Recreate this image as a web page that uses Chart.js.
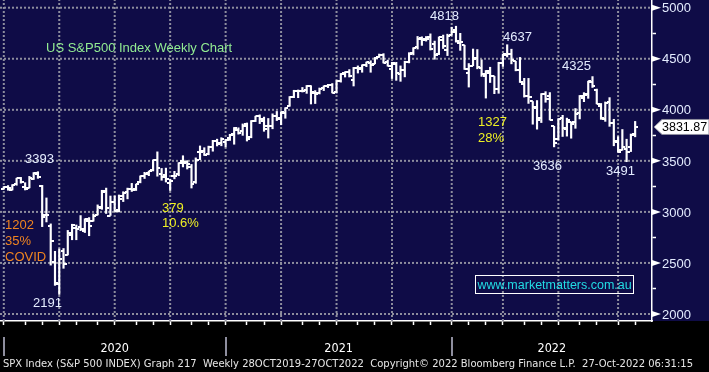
<!DOCTYPE html>
<html>
<head>
<meta charset="utf-8">
<title>US S&amp;P500 Index Weekly Chart</title>
<script src="https://cdn.jsdelivr.net/npm/chart.js@4.4.0/dist/chart.umd.min.js"></script>
<style>
  html, body { margin: 0; padding: 0; background: #000; }
  #wrap { width: 709px; height: 372px; }
</style>
</head>
<body>
<div id="wrap"><canvas id="spx" width="709" height="372"></canvas></div>
<script>
// weekly OHLC, one entry per week; index 0 = week ending 27 Dec 2019, last = week of 27 Oct 2022
const opens = [3225.4,3240.1,3217.6,3273.4,3333.1,3247.2,3235.7,3318.3,3369.0,3257.6,2974.3,2863.9,2508.6,2290.7,2614.7,2578.3,2776.0,2845.6,2854.7,2815.0,2915.5,2913.9,2969.9,3038.8,3199.9,2964.2,3094.4,3018.6,3155.3,3191.0,3224.3,3219.8,3288.3,3356.0,3377.0,3411.0,3507.4,3370.3,3363.6,3285.6,3350.9,3367.3,3500.0,3493.5,3441.4,3296.2,3583.0,3600.2,3566.8,3634.2,3698.1,3675.3,3684.3,3723.0,3764.6,3803.1,3788.4,3857.5,3731.2,3892.6,3939.6,3885.6,3842.5,3844.4,3942.9,3916.5,3969.3,4034.4,4124.7,4179.8,4185.1,4191.9,4228.3,4169.1,4168.6,4216.5,4229.3,4242.9,4173.4,4284.9,4356.5,4372.4,4296.4,4409.6,4406.9,4437.8,4462.1,4450.3,4513.8,4535.4,4470.1,4402.9,4449.0,4348.8,4385.4,4463.7,4553.4,4610.6,4707.3,4689.3,4712.0,4640.2,4548.4,4687.6,4587.9,4733.9,4778.1,4655.3,4632.2,4356.3,4431.8,4505.8,4412.6,4332.7,4363.1,4327.0,4202.8,4462.4,4541.1,4547.9,4474.6,4385.6,4255.3,4130.6,4081.3,4013.0,3919.4,4151.1,4134.7,3838.2,3715.3,3920.8,3815.0,3880.9,3883.8,3972.5,4112.4,4158.0,4269.4,4195.1,4034.6,3909.4,4078.1,3871.0,3682.7,3609.8,3619.9,3638.7,3758.1];
const highs = [3247.9,3258.1,3267.1,3329.9,3337.8,3285.9,3347.9,3385.1,3393.5,3259.8,3136.7,2882.6,2613.8,2637.0,2641.4,2818.6,2879.2,2871.6,2964.2,2932.2,2944.3,2980.3,3068.7,3211.7,3233.1,3155.5,3155.5,3165.8,3197.5,3233.0,3279.3,3272.2,3352.5,3387.9,3399.5,3509.4,3588.1,3425.6,3428.9,3320.3,3397.2,3482.3,3550.0,3502.4,3464.9,3529.1,3645.9,3628.5,3644.3,3701.0,3712.4,3726.7,3711.2,3760.2,3826.7,3823.6,3861.5,3870.9,3894.6,3937.2,3950.4,3928.7,3915.0,3960.3,3983.9,3978.2,4020.6,4129.5,4191.3,4194.2,4218.8,4238.0,4236.4,4188.1,4213.4,4234.1,4249.7,4257.2,4286.1,4355.8,4372.9,4393.7,4415.2,4429.9,4440.8,4468.0,4480.3,4513.3,4545.9,4549.8,4486.9,4465.4,4465.0,4429.9,4475.8,4559.7,4608.1,4718.5,4714.9,4717.8,4743.8,4672.9,4713.6,4731.9,4740.7,4808.9,4818.6,4748.8,4632.2,4453.2,4595.3,4590.0,4489.6,4385.0,4416.8,4327.0,4465.4,4546.0,4637.3,4593.5,4474.6,4512.9,4308.5,4307.7,4081.3,4090.7,4158.5,4177.5,4168.8,3838.2,3913.7,3945.9,3918.5,3880.9,4012.4,4140.2,4167.7,4280.5,4325.3,4203.0,4062.0,4076.8,4119.3,3907.1,3736.7,3806.9,3712.0,3762.8,3886.2];
const lows = [3222.0,3212.0,3214.6,3260.9,3281.5,3214.7,3235.7,3317.8,3328.5,2855.8,2901.5,2478.9,2280.5,2191.9,2447.5,2578.3,2727.1,2727.1,2815.8,2797.9,2766.6,2909.0,2969.9,3025.2,2984.5,2965.7,3004.6,2999.5,3101.2,3127.7,3200.0,3209.5,3284.5,3327.0,3354.7,3401.0,3349.6,3310.0,3292.4,3209.5,3323.7,3354.5,3440.5,3419.9,3233.9,3279.7,3511.9,3552.6,3559.3,3594.4,3645.8,3647.5,3636.5,3699.9,3662.7,3761.5,3749.6,3694.1,3725.6,3884.9,3865.0,3789.5,3723.3,3814.0,3894.6,3853.5,3917.1,4034.4,4118.6,4118.4,4174.0,4160.9,4056.9,4061.4,4155.3,4188.1,4217.3,4165.0,4164.4,4271.0,4321.0,4321.1,4233.1,4360.0,4367.7,4422.6,4367.7,4450.3,4513.0,4458.1,4427.8,4305.9,4288.5,4278.9,4322.5,4459.5,4537.4,4595.1,4630.9,4672.8,4585.4,4495.1,4540.5,4600.2,4531.1,4733.0,4662.7,4582.2,4395.3,4222.6,4431.8,4401.4,4327.2,4114.7,4267.3,4157.9,4161.7,4424.3,4517.7,4450.0,4381.3,4267.6,4124.3,4062.5,3858.9,3810.3,3875.1,4073.9,3900.2,3636.9,3705.7,3738.7,3742.1,3721.6,3818.6,3910.7,4079.8,4112.1,4218.7,4057.7,3906.2,3886.8,3838.0,3647.5,3584.1,3604.9,3491.6,3590.8,3735.4];
const closes = [3240.0,3234.9,3265.4,3329.6,3295.5,3225.5,3327.7,3380.2,3337.8,2954.2,2972.4,2711.0,2304.9,2541.5,2488.7,2789.8,2874.6,2836.7,2830.7,2929.8,2863.7,2955.5,3044.3,3193.9,3041.3,3097.7,3009.1,3130.0,3185.0,3224.7,3215.6,3271.1,3351.3,3372.9,3397.2,3508.0,3427.0,3341.0,3319.5,3298.5,3348.4,3477.1,3483.8,3465.4,3270.0,3509.4,3585.2,3557.5,3638.4,3699.1,3663.5,3709.4,3703.1,3756.1,3824.7,3768.3,3841.5,3714.2,3886.8,3934.8,3906.7,3811.2,3842.0,3943.3,3913.1,3974.5,4019.9,4128.8,4185.5,4180.2,4181.2,4232.6,4173.9,4155.9,4204.1,4229.9,4247.4,4166.5,4280.7,4352.3,4369.6,4327.2,4411.8,4395.3,4436.5,4468.0,4441.7,4509.4,4535.4,4458.6,4433.0,4455.5,4357.0,4391.3,4471.4,4544.9,4605.4,4697.5,4682.9,4698.0,4594.6,4538.4,4712.0,4620.6,4725.8,4766.2,4677.0,4662.9,4398.0,4431.9,4500.5,4418.6,4348.9,4384.7,4328.9,4204.3,4463.1,4543.1,4545.9,4488.3,4392.6,4271.8,4131.9,4123.3,4023.9,3901.4,4158.2,4108.5,3900.9,3674.8,3911.7,3825.3,3899.4,3863.2,3961.6,4130.3,4145.2,4280.2,4228.5,4057.7,3924.3,4067.4,3873.3,3693.2,3585.6,3639.7,3583.1,3752.8,3831.9];

// week index of the month marks on the time axis, the quarter grid lines and the year blocks
const monthTicks = [0,5,9,13,17,22,26,31,35,39,44,48,52,57,61,65,70,74,78,83,87,91,96,100,105,109,113,117,122,126,130,135,139,144,148];
const quarterTicks = [0,13,26,39,52,65,78,91,105,117,130,144];
const yearLabels = ['2020', '2021', '2022'];
const yearStarts = [0, 52, 105];

const priceTicks = [2000,2250,2500,2750,3000,3250,3500,3750,4000,4250,4500,4750,5000];
const priceLabels = [2000,2500,3000,3500,4000,4500,5000];
const lastPrice = 3831.87;

const footer = 'SPX Index (S&P 500 INDEX) Graph 217  Weekly 28OCT2019-27OCT2022  Copyright\u00A9 2022 Bloomberg Finance L.P.  27-Oct-2022 06:31:15';

const X_MIN = -0.89, X_MAX = 151.95;
const Y_MIN = 1931.4, Y_MAX = 5075.4;

const NAVY = '#0f0c47';
const GRID = '#8e8e9e';
const LIGHT = '#e4ecff';
const GREEN = '#92ec92';
const ORANGE = '#f08420';
const YELLOW = '#eef024';
const CYAN = '#22dce4';
const FONT = '"Liberation Sans", Arial, sans-serif';
const NARROW = '"DejaVu Sans Condensed", "Liberation Sans Narrow", sans-serif';

// text notes written on the chart (x = left edge, y = middle of the digits)
const notes = [
  { text: 'US S&P500 Index Weekly Chart', x: 46, y: 47.5, color: GREEN },
  { text: '4818', x: 430, y: 15, color: LIGHT },
  { text: '4637', x: 503, y: 36, color: LIGHT },
  { text: '4325', x: 562, y: 65.5, color: LIGHT },
  { text: '1327', x: 478, y: 121, color: YELLOW },
  { text: '28%', x: 478, y: 137.5, color: YELLOW },
  { text: '3636', x: 533, y: 165, color: LIGHT },
  { text: '3491', x: 606, y: 170.5, color: LIGHT },
  { text: '3393', x: 25, y: 158, color: LIGHT },
  { text: '1202', x: 5, y: 224.5, color: ORANGE },
  { text: '35%', x: 5, y: 240, color: ORANGE },
  { text: 'COVID', x: 5, y: 256.5, color: ORANGE },
  { text: '2191', x: 33, y: 302, color: LIGHT },
  { text: '379', x: 162, y: 207, color: YELLOW },
  { text: '10.6%', x: 162, y: 222.5, color: YELLOW }
];

// open tick sits left of the bar, close tick right of it
function tickImage(side) {
  const c = document.createElement('canvas');
  c.width = 6; c.height = 2;
  const g = c.getContext('2d');
  g.fillStyle = '#ffffff';
  g.fillRect(side === 'left' ? 0 : 3, 0, 3, 2);
  return c;
}

// dotted grid drawn as plain line datasets behind the bars
const gridStyle = {
  type: 'line',
  showLine: true,
  pointRadius: 0,
  borderColor: GRID,
  borderWidth: 2,
  borderDash: [2, 2],
  fill: false,
  tension: 0,
  order: 10
};
const gridSets = [
  ...quarterTicks.map(k => ({ ...gridStyle, data: [{ x: k, y: Y_MIN }, { x: k, y: Y_MAX }] })),
  ...priceLabels.map(v => ({ ...gridStyle, data: [{ x: X_MIN, y: v }, { x: X_MAX, y: v }] }))
];

const backdrop = {
  id: 'backdrop',
  beforeDraw(chart) {
    const { ctx, chartArea } = chart;
    ctx.save();
    ctx.fillStyle = '#000000';
    ctx.fillRect(0, 0, chart.width, chart.height);
    ctx.fillStyle = NAVY;
    ctx.fillRect(0, 0, chart.width, chartArea.bottom);
    ctx.restore();
  }
};

const decorations = {
  id: 'decorations',
  afterDraw(chart) {
    const { ctx, chartArea } = chart;
    const xs = chart.scales.x, ys = chart.scales.y;
    ctx.save();

    // price axis: arrow marks and labels
    ctx.font = '13px ' + FONT;
    ctx.textBaseline = 'alphabetic';
    ctx.textAlign = 'left';
    priceLabels.forEach(v => {
      const y = ys.getPixelForValue(v);
      ctx.fillStyle = '#ffffff';
      ctx.beginPath();
      ctx.moveTo(chartArea.right, y - 3);
      ctx.lineTo(chartArea.right + 9, y);
      ctx.lineTo(chartArea.right, y + 3);
      ctx.closePath();
      ctx.fill();
      ctx.fillStyle = LIGHT;
      ctx.fillText(String(v), chartArea.right + 10, y + 4.7);
    });

    // last price flag
    const py = ys.getPixelForValue(lastPrice);
    const bx = chartArea.right + 2;
    ctx.fillStyle = '#ffffff';
    ctx.strokeStyle = GRID;
    ctx.lineWidth = 1;
    ctx.beginPath();
    ctx.moveTo(bx, py);
    ctx.lineTo(bx + 8, py - 7.5);
    ctx.lineTo(chart.width, py - 7.5);
    ctx.lineTo(chart.width, py + 7.5);
    ctx.lineTo(bx + 8, py + 7.5);
    ctx.closePath();
    ctx.fill();
    ctx.stroke();
    ctx.fillStyle = '#000000';
    ctx.font = '12.5px ' + FONT;
    ctx.fillText(lastPrice.toFixed(2), bx + 8, py + 4.5);

    // year blocks under the time axis
    ctx.font = '12.5px ' + NARROW;
    ctx.textAlign = 'center';
    yearStarts.forEach((k, j) => {
      const x0 = xs.getPixelForValue(k);
      const x1 = j + 1 < yearStarts.length ? xs.getPixelForValue(yearStarts[j + 1]) : chartArea.right;
      ctx.strokeStyle = GRID;
      ctx.lineWidth = 2;
      ctx.beginPath();
      ctx.moveTo(Math.round(x0), 337);
      ctx.lineTo(Math.round(x0), 356);
      ctx.stroke();
      ctx.fillStyle = '#ffffff';
      ctx.fillText(yearLabels[j], (x0 + x1) / 2, 351.5);
    });

    // footer line, squeezed to the width of the window
    ctx.textAlign = 'left';
    ctx.font = '10.5px ' + NARROW;
    ctx.fillStyle = '#e6e6e6';
    const w = ctx.measureText(footer).width;
    ctx.save();
    ctx.translate(3, 367);
    ctx.scale(690 / w, 1);
    ctx.fillText(footer, 0, 0);
    ctx.restore();

    // notes
    ctx.font = '13px ' + FONT;
    notes.forEach(n => {
      ctx.fillStyle = n.color;
      ctx.fillText(n.text, n.x, n.y + 4.7);
    });

    // web address box
    ctx.strokeStyle = '#ffffff';
    ctx.lineWidth = 1;
    ctx.strokeRect(475.5, 275.5, 158, 18);
    ctx.fillStyle = CYAN;
    ctx.font = '12.5px ' + FONT;
    ctx.fillText('www.marketmatters.com.au', 477.5, 289);

    ctx.restore();
  }
};

new Chart(document.getElementById('spx'), {
  type: 'scatter',
  data: {
    datasets: [
      {
        type: 'bar',
        data: highs.map((h, k) => ({ x: k, y: [lows[k], h] })),
        backgroundColor: '#ffffff',
        borderWidth: 0,
        barThickness: 1.5,
        grouped: false,
        order: 2
      },
      {
        data: opens.map((o, k) => ({ x: k, y: o })),
        pointStyle: tickImage('left'),
        pointRadius: 3,
        showLine: false,
        order: 1
      },
      {
        data: closes.map((c, k) => ({ x: k, y: c })),
        pointStyle: tickImage('right'),
        pointRadius: 3,
        showLine: false,
        order: 1
      },
      ...gridSets
    ]
  },
  options: {
    responsive: false,
    animation: false,
    devicePixelRatio: 1,
    events: [],
    layout: { padding: 0, autoPadding: false },
    plugins: { legend: { display: false }, tooltip: { enabled: false } },
    scales: {
      x: {
        type: 'linear',
        min: X_MIN,
        max: X_MAX,
        offset: false,
        afterBuildTicks: s => { s.ticks = monthTicks.map(v => ({ value: v })); },
        afterFit: s => { s.height = 51; },
        ticks: { display: false },
        grid: {
          offset: false,
          drawOnChartArea: false,
          drawTicks: true,
          tickLength: 4,
          tickWidth: 1.5,
          tickColor: '#ffffff'
        },
        border: { display: true, color: '#ffffff', width: 1.5 }
      },
      y: {
        type: 'linear',
        position: 'right',
        min: Y_MIN,
        max: Y_MAX,
        afterBuildTicks: s => { s.ticks = priceTicks.map(v => ({ value: v })); },
        afterFit: s => { s.width = 57; },
        ticks: { display: false },
        grid: {
          drawOnChartArea: false,
          drawTicks: true,
          tickLength: 4,
          tickWidth: 1.5,
          tickColor: c => (c.tick && priceLabels.includes(c.tick.value)) ? 'rgba(0,0,0,0)' : '#ffffff'
        },
        border: { display: true, color: '#ffffff', width: 1.5 }
      }
    }
  },
  plugins: [backdrop, decorations]
});
</script>
</body>
</html>
